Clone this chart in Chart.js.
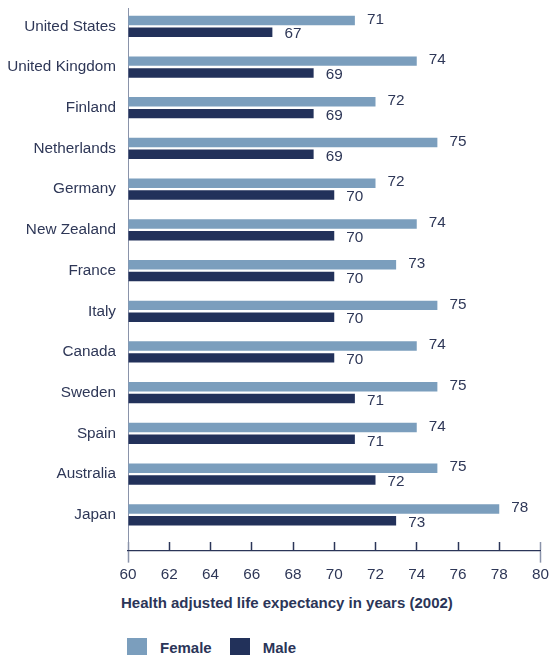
<!DOCTYPE html>
<html lang="en">
<head>
    <meta charset="utf-8">
    <title>Health adjusted life expectancy (2002)</title>
    <style>
    html, body {
        margin: 0;
        overflow: hidden;
        background: #fff;
        font-family: "Liberation Sans", Arial, sans-serif;
    }
    #wrap {
        position: relative;
        width: 550px;
        height: 655px;
        overflow: hidden;
    }
    #chartBox {
        position: absolute;
        left: 0;
        top: 0;
        width: 550px;
        height: 587px;
    }
    #caption {
        position: absolute;
        left: 121px;
        top: 594px;
        font-size: 15px;
        font-weight: bold;
        line-height: 18px;
        color: #2b3558;
        white-space: nowrap;
    }
    #legend {
        position: absolute;
        left: 127px;
        top: 637px;
        display: flex;
        font-size: 15px;
        font-weight: bold;
        color: #2b3558;
    }
    .item {
        display: flex;
        align-items: center;
        margin-right: 18px;
        line-height: 22px;
    }
    .swatch {
        width: 20px;
        height: 20px;
        margin-right: 13px;
    }
    </style>
    <script src="https://cdn.jsdelivr.net/npm/chart.js"></script>
</head>
<body>
    <div id="wrap">
        <div id="chartBox"><canvas id="chart"></canvas></div>
        <div id="caption">Health adjusted life expectancy in years (2002)</div>
        <div id="legend"></div>
    </div>

    <script>
        var countries = ['United States', 'United Kingdom', 'Finland', 'Netherlands', 'Germany',
            'New Zealand', 'France', 'Italy', 'Canada', 'Sweden', 'Spain', 'Australia', 'Japan'];
        var female = [71, 74, 72, 75, 72, 74, 73, 75, 74, 75, 74, 75, 78];
        var male = [67, 69, 69, 69, 70, 70, 70, 70, 70, 71, 71, 72, 73];

        var femaleColor = '#7b9ebd';
        var maleColor = '#22315a';
        var textColor = '#2e3757';
        var axisColor = '#2b3558';
        var edgeColor = '#8a93aa';
        var font = '"Liberation Sans", Arial, sans-serif';

        // ends of the value axis get the lighter colour
        function isEdge(ctx) {
            return ctx.tick && (ctx.tick.value === 60 || ctx.tick.value === 80);
        }

        // numbers printed just past the end of every bar
        var valueLabels = {
            id: 'valueLabels',
            afterDatasetsDraw: function (chart) {
                var ctx = chart.ctx;
                ctx.save();
                ctx.font = '15.3px ' + font;
                ctx.fillStyle = textColor;
                ctx.textBaseline = 'middle';
                chart.data.datasets.forEach(function (ds, di) {
                    var shift = di === 0 ? -1 : 2;
                    chart.getDatasetMeta(di).data.forEach(function (bar, i) {
                        ctx.fillText(ds.data[i].x, bar.x + 12, bar.y + shift);
                    });
                });
                ctx.restore();
            }
        };

        var chart = new Chart(document.getElementById('chart'), {
            type: 'bar',
            data: {
                datasets: [{
                    label: 'Female',
                    data: female.map(function (v, i) { return { x: v, y: i }; }),
                    backgroundColor: femaleColor,
                    base: 60
                }, {
                    label: 'Male',
                    data: male.map(function (v, i) { return { x: v, y: i }; }),
                    backgroundColor: maleColor,
                    base: 60
                }]
            },
            options: {
                indexAxis: 'y',
                responsive: true,
                maintainAspectRatio: false,
                animation: false,
                categoryPercentage: 0.58,
                barPercentage: 0.8,
                layout: { padding: { top: 8, right: 9.5, left: 0, bottom: 0 } },
                plugins: {
                    legend: { display: false },
                    tooltip: { enabled: false }
                },
                scales: {
                    y: {
                        type: 'linear',
                        reverse: true,
                        offset: false,
                        min: -0.45,
                        max: 12.88,
                        afterBuildTicks: function (scale) {
                            scale.ticks = countries.map(function (c, i) { return { value: i }; });
                        },
                        afterFit: function (scale) {
                            scale.width = 128;
                            scale.paddingTop = 0;
                            scale.paddingBottom = 0;
                        },
                        grid: { display: false, drawTicks: false, offset: false },
                        border: { display: true, color: edgeColor, width: 1 },
                        ticks: {
                            autoSkip: false,
                            padding: 12,
                            color: textColor,
                            font: { size: 15.3, family: font },
                            callback: function (v) { return countries[v]; }
                        }
                    },
                    x: {
                        type: 'linear',
                        position: 'bottom',
                        min: 60,
                        max: 80,
                        beginAtZero: false,
                        afterFit: function (scale) {
                            scale.paddingLeft = 0;
                            scale.paddingRight = 0;
                        },
                        grid: {
                            drawOnChartArea: false,
                            tickLength: 12,
                            tickWidth: 1.5,
                            tickColor: function (ctx) { return isEdge(ctx) ? edgeColor : 'rgba(0,0,0,0)'; }
                        },
                        border: { display: true, color: axisColor, width: 1.2 },
                        ticks: {
                            stepSize: 2,
                            padding: 3,
                            color: textColor,
                            font: { size: 15.3, family: font }
                        }
                    },
                    // short upward tick marks sitting on the value axis
                    x2: {
                        type: 'linear',
                        axis: 'x',
                        position: { y: 12.68 },
                        min: 60,
                        max: 80,
                        grid: {
                            drawOnChartArea: false,
                            tickLength: 8,
                            tickWidth: 1.5,
                            tickColor: function (ctx) { return isEdge(ctx) ? edgeColor : axisColor; }
                        },
                        border: { display: false },
                        ticks: { display: false, stepSize: 2 }
                    }
                }
            },
            plugins: [valueLabels]
        });

        // legend from the chart's datasets
        var legend = document.getElementById('legend');
        chart.data.datasets.forEach(function (ds) {
            var item = document.createElement('div');
            item.className = 'item';
            var sw = document.createElement('span');
            sw.className = 'swatch';
            sw.style.background = ds.backgroundColor;
            var txt = document.createElement('span');
            txt.textContent = ds.label;
            item.appendChild(sw);
            item.appendChild(txt);
            legend.appendChild(item);
        });
    </script>
</body>
</html>
